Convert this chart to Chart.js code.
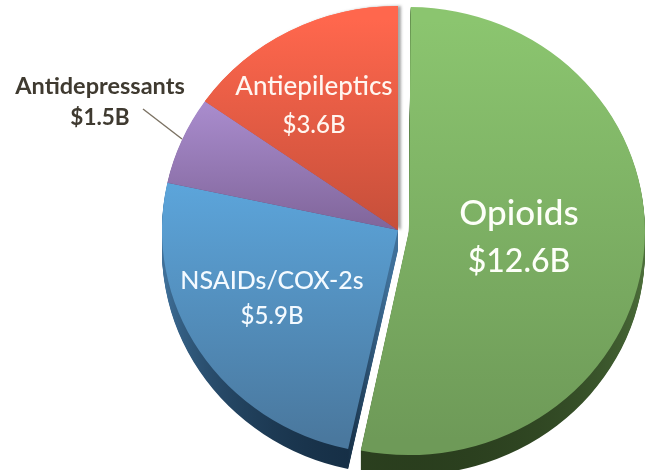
<!DOCTYPE html>
<html>
<head>
<meta charset="utf-8">
<style>
html,body{margin:0;padding:0;background:#fff;}
canvas{display:block;filter:blur(0.6px);}
</style>
<script src="https://cdn.jsdelivr.net/npm/chart.js@4"></script>
</head>
<body>
<canvas id="c" width="654" height="470"></canvas>
<script>
const categories = ["Opioids", "NSAIDs/COX-2s", "Antidepressants", "Antiepileptics"];
const values = [12.6, 5.9, 1.5, 3.6];
const offsets = [44, 0, 0, 0];
const FONT = 'Lato, "Open Sans", sans-serif';

const canvas = document.getElementById('c');
const g = canvas.getContext('2d');
function grad(y0, c0, y1, c1) {
  const l = g.createLinearGradient(0, y0, 0, y1);
  l.addColorStop(0, c0); l.addColorStop(1, c1);
  return l;
}
const fills = [
  grad(8, '#8BC56F', 450, '#6E9A58'),
  grad(180, '#5CA5DB', 450, '#4A789E'),
  grad(100, '#A88BCC', 230, '#80659A'),
  grad(8, '#FF674D', 230, '#C64F3A')
];
const sides = [
  grad(260, '#4C6E3A', 470, '#293D1D'),
  grad(270, '#3F7099', 470, '#142C42'),
  '#5F4A75',
  '#8A3526'
];

const SQUASH = 224 / 236, DEPTH = 20, CY = 230;

const pieShape = {
  id: 'pieShape',
  afterDatasetsUpdate(chart) {
    // an exploded slice keeps the same radius as the others
    chart.getDatasetMeta(0).data.forEach((arc, i) => {
      arc.outerRadius -= offsets[i] / 4;
    });
  },
  beforeDatasetsDraw(chart) {
    const ctx = chart.ctx;
    const arcs = chart.getDatasetMeta(0).data;
    ctx.save();
    // page-level tilt of the pie, then the extruded rim below it
    ctx.translate(0, CY); ctx.scale(1, SQUASH); ctx.translate(0, -CY);
    for (let d = DEPTH; d >= 1; d--) {
      ctx.save();
      ctx.translate(0, d / SQUASH);
      arcs.forEach((arc, i) => {
        const o = arc.options;
        arc.options = Object.assign({}, o, {backgroundColor: sides[i]});
        arc.draw(ctx);
        arc.options = o;
      });
      ctx.restore();
    }
    // soft shadow cast into the gap by the pieces left of it
    ctx.save();
    ctx.shadowColor = 'rgba(90,90,90,0.55)';
    ctx.shadowBlur = 3;
    ctx.shadowOffsetX = 3;
    arcs.forEach((arc, i) => { if (i === 3) arc.draw(ctx); });
    ctx.restore();
  },
  afterDatasetsDraw(chart) {
    chart.ctx.restore();
  }
};

const labelSpec = [
  {lines: ["Opioids", "$12.6B"], x: 519, ys: [214, 262], sizes: [35, 32], color: '#FDFFF8'},
  {lines: ["NSAIDs/COX-2s", "$5.9B"], x: 272, ys: [281, 316], sizes: [25, 24], color: '#F4FAFF'},
  {lines: ["Antiepileptics", "$3.6B"], x: 314, ys: [87, 125], sizes: [26, 24], color: '#FFF6F0'},
  {lines: ["Antidepressants", "$1.5B"], x: 100, ys: [86, 118], sizes: [23.5, 22.5], color: '#3F3A30', weight: '700'}
];

const pieLabels = {
  id: 'pieLabels',
  afterDraw(chart) {
    const ctx = chart.ctx;
    ctx.save();
    ctx.strokeStyle = '#7B7263';
    ctx.lineWidth = 1.4;
    ctx.beginPath(); ctx.moveTo(143, 109); ctx.lineTo(182, 139); ctx.stroke();
    ctx.textAlign = 'center';
    ctx.textBaseline = 'middle';
    labelSpec.forEach(s => {
      ctx.fillStyle = s.color;
      s.lines.forEach((t, i) => {
        ctx.font = (s.weight || '500') + ' ' + s.sizes[i] + 'px ' + FONT;
        ctx.fillText(t, s.x, s.ys[i]);
      });
    });
    ctx.restore();
  }
};

new Chart(canvas, {
  type: 'pie',
  data: {
    labels: categories,
    datasets: [{
      data: values,
      backgroundColor: fills,
      borderWidth: 0,
      offset: offsets,
      clip: false
    }]
  },
  options: {
    responsive: false,
    animation: false,
    radius: 236,
    layout: {padding: {left: 142, right: 0, top: 0, bottom: 10}},
    plugins: {legend: {display: false}, tooltip: {enabled: false}}
  },
  plugins: [pieShape, pieLabels]
});
</script>
</body>
</html>
